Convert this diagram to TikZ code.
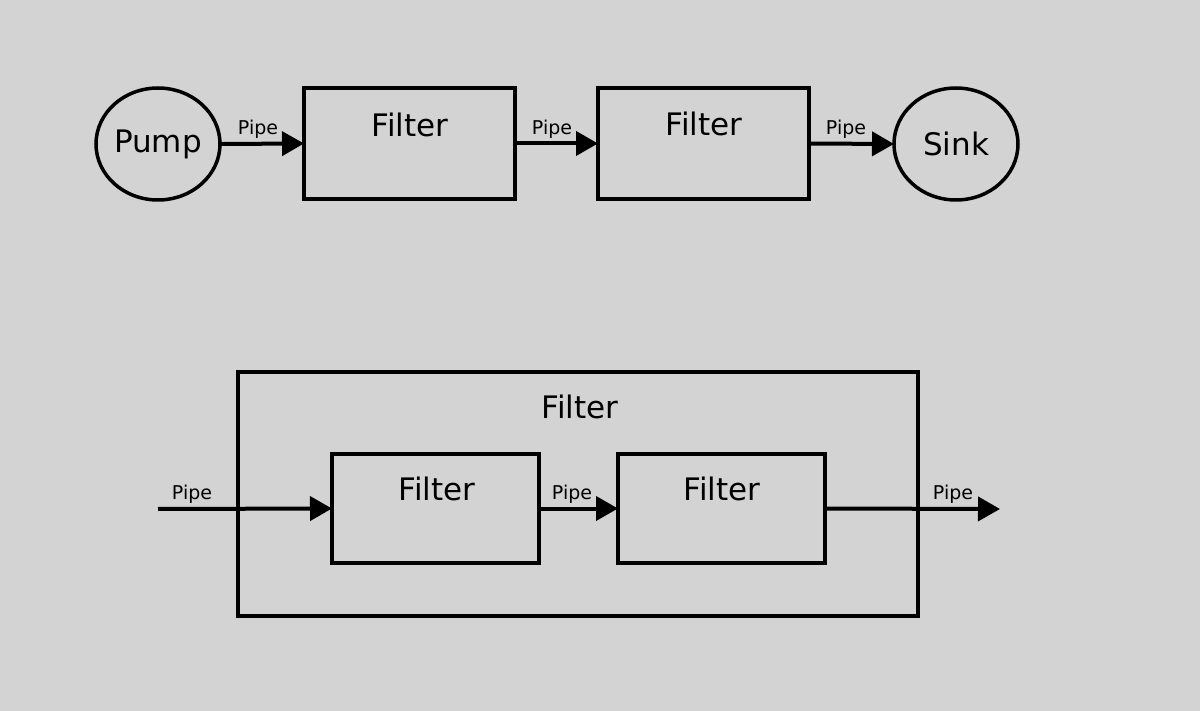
\documentclass[tikz,border=0pt]{standalone}
\usepackage{fontspec}
\setmainfont{DejaVu Sans}
\usetikzlibrary{arrows.meta,shapes.geometric}
\definecolor{bg}{HTML}{D3D3D3}
\begin{document}
\begin{tikzpicture}[x=1pt,y=-1pt,
  every node/.style={inner sep=0pt,outer sep=0pt},
  comp/.style={draw,line width=4pt,minimum width=211pt,minimum height=111pt},
  endp/.style={draw,ellipse,line width=3.5pt,minimum width=124pt,minimum height=112pt,font=\fontsize{31}{31}\selectfont},
  ttl/.style={font=\fontsize{31}{31}\selectfont},
  pipe/.style={line width=4pt,-{Triangle[length=22pt,width=24pt]}},
  plabel/.style={font=\fontsize{19}{19}\selectfont}
]
\fill[bg] (0,0) rectangle (1200,711);
\useasboundingbox (0,0) rectangle (1200,711);
% top row
\node[endp] (pump) at (158,144) {Pump};
\node[comp] (f1) at (409.5,143.5) {};
\node[ttl] (f1t) at (410,125) {Filter};
\node[comp] (f2) at (703.5,143.5) {};
\node[ttl] (f2t) at (704,124) {Filter};
\node[endp] (sink) at (956,144) {Sink};
\draw[pipe] (pump.east) -- (f1.west);
\draw[pipe] (f1.east) -- (f2.west);
\draw[pipe] (f2.east) -- (sink.west);
\node[plabel] (p1) at (258,129) {Pipe};
\node[plabel] (p2) at (552,129) {Pipe};
\node[plabel] (p3) at (846,129) {Pipe};
% bottom composite
\node[draw,line width=4pt,minimum width=680pt,minimum height=244pt] (outer) at (578,494) {};
\node[ttl] (ot) at (580,407) {Filter};
\node[comp,minimum width=207pt,minimum height=109pt] (g1) at (435.5,508.5) {};
\node[ttl] (g1t) at (437,489) {Filter};
\node[comp,minimum width=207pt,minimum height=109pt] (g2) at (721.5,508.5) {};
\node[ttl] (g2t) at (722,489) {Filter};
\coordinate (in) at (158,509);
\coordinate (out) at (1000,509);
\draw[pipe] (in) -- (g1.west);
\draw[pipe] (g1.east) -- (g2.west);
\draw[pipe] (g2.east) -- (out);
\node[plabel] (q1) at (192,494) {Pipe};
\node[plabel] (q2) at (572,494) {Pipe};
\node[plabel] (q3) at (953,494) {Pipe};
\end{tikzpicture}
\end{document}
